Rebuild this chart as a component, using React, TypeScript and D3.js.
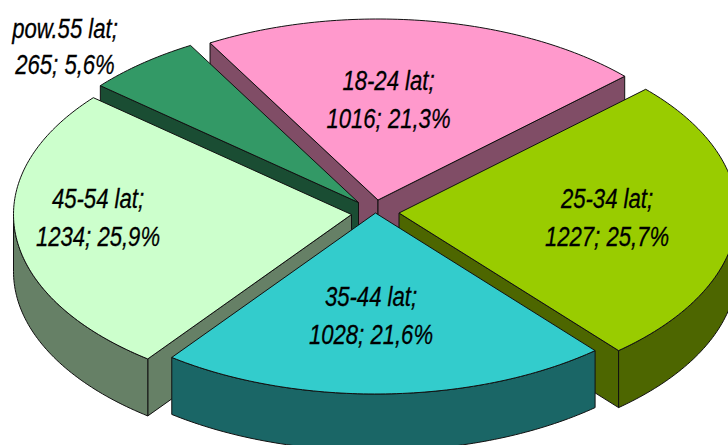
import * as d3 from "d3";

const categories = ["18-24 lat", "25-34 lat", "35-44 lat", "45-54 lat", "pow.55 lat"];
const counts = [1016, 1227, 1028, 1234, 265];
const topColors = ["#ff99cc", "#99cc00", "#33cccc", "#ccffcc", "#339966"];
const wallColors = ["#804d66", "#4d6600", "#1a6666", "#668066", "#1a4d33"];

// layout
const width = 728;
const height = 445;
const rx = 338;
const ry = 181;
const depth = 57;
const startDeg = -29.8;
const apexX = [378, 399, 375.5, 351.5, 358.5];
const apexY = [200, 213, 213, 214.5, 202.5];
const labelX = [388.5, 607, 371, 98, 65];
const labelY = [90, 208, 306, 208, 38];
const labelGap = [38, 38, 38, 38, 36];
const drawOrder = [0, 4, 3, 1, 2];
const textSquash = 0.79;

const total = d3.sum(counts);
const pct = d3.format(".1f");

const arcs = d3
  .pie<number>()
  .sort(null)
  .startAngle((startDeg * Math.PI) / 180)
  .endAngle((startDeg * Math.PI) / 180 + 2 * Math.PI)(counts);

const line = d3.line();

function rimPoint(i: number, a: number): [number, number] {
  return [apexX[i] + rx * Math.sin(a), apexY[i] - ry * Math.cos(a)];
}

function rimPoints(i: number, a0: number, a1: number) {
  const n = Math.max(2, Math.ceil(Math.abs(a1 - a0) * 60));
  const s = d3.scaleLinear().domain([0, n]).range([a0, a1]);
  return d3.range(n + 1).map((k) => rimPoint(i, s(k)));
}

const down = (p: [number, number]): [number, number] => [p[0], p[1] + depth];

function Slice({ i }: { i: number }) {
  const { startAngle, endAngle } = arcs[i];
  const apex: [number, number] = [apexX[i], apexY[i]];
  const rim = rimPoints(i, startAngle, endAngle);
  const last = rim[rim.length - 1];
  const top = line([apex, ...rim])! + "Z";

  // a cut face shows only when it is turned towards the viewer
  const showStart = Math.sin(startAngle) < 0;
  const showEnd = Math.sin(endAngle) > 0;
  const wallA = line([apex, rim[0], down(rim[0]), down(apex)])! + "Z";
  const wallB = line([apex, last, down(last), down(apex)])! + "Z";

  // same for the outer rim
  const from = Math.max(startAngle, Math.PI / 2);
  const to = Math.min(endAngle, (3 * Math.PI) / 2);
  let front = null;
  if (to > from) {
    const pts = rimPoints(i, from, to);
    front = line([...pts, ...pts.slice().reverse().map(down)])! + "Z";
  }

  return (
    <g stroke="#111" strokeWidth={1} strokeLinejoin="round">
      {showStart && <path d={wallA} fill={wallColors[i]} />}
      {showEnd && <path d={wallB} fill={wallColors[i]} />}
      {front && <path d={front} fill={wallColors[i]} />}
      <path d={top} fill={topColors[i]} />
    </g>
  );
}

export default function App() {
  return (
    <svg
      width={width}
      height={height}
      viewBox={`0 0 ${width} ${height}`}
      style={{ position: "absolute", left: 0, top: 0, background: "#fff" }}
    >
      {drawOrder.map((i) => (
        <Slice key={categories[i]} i={i} />
      ))}
      <g
        fontFamily="'Liberation Sans', Arial, sans-serif"
        fontStyle="italic"
        fontSize={28}
        textAnchor="middle"
        fill="#000"
        stroke="#000"
        strokeWidth={0.3}
      >
        {categories.map((c, i) => (
          <g key={c} transform={`translate(${labelX[i]},${labelY[i]}) scale(${textSquash},1)`}>
            <text>{c};</text>
            <text y={labelGap[i]}>
              {counts[i]}; {pct((counts[i] / total) * 100).replace(".", ",")}%
            </text>
          </g>
        ))}
      </g>
    </svg>
  );
}
